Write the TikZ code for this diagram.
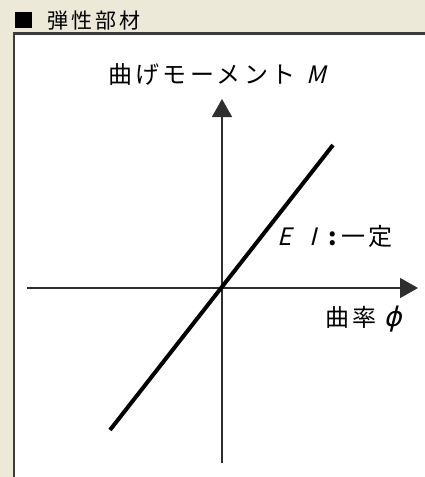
\documentclass[tikz,border=0pt]{standalone}
\usepackage{fontspec}
\setmainfont{Noto Sans CJK JP}
\newfontfamily\jpsl[FakeSlant=0.25]{Noto Sans CJK JP}
\newfontfamily\phifont[FakeSlant=0.25]{DejaVu Sans}
\usetikzlibrary{arrows.meta}
\definecolor{winbg}{HTML}{ECE9D8}
\definecolor{framegray}{HTML}{3C3C3C}
\definecolor{axisgray}{HTML}{2E2E2E}
\begin{document}
\begin{tikzpicture}[x=1pt,y=-1pt,
  lbl/.style={inner sep=0pt, anchor=base west,
    font=\fontsize{24}{24}\selectfont\addfontfeatures{LetterSpace=14}},
  ttl/.style={inner sep=0pt, anchor=base west,
    font=\fontsize{21}{21}\selectfont\addfontfeatures{LetterSpace=15}},
  axisline/.style={draw=axisgray, line width=1.4pt, -{Triangle[length=18pt,width=20pt]}},
  graphline/.style={draw=black, line width=4pt}]
\useasboundingbox (0,0) rectangle (425,477);
\fill[winbg] (0,0) rectangle (425,477);
\fill[white] (15,35) rectangle (425,477);
\draw[framegray, line width=2.5pt] (13.75,477) -- (13.75,33.25) -- (425,33.25);
\fill[black] (15,12) rectangle (32,28);
\node[ttl] (title) at (47,28) {弾性部材};
% axes
\coordinate (ybot) at (222,463);
\coordinate (ytop) at (222,99);
\coordinate (xleft) at (27,288);
\coordinate (xright) at (418,288);
\draw[axisline] (ybot) -- (ytop);
\draw[axisline] (xleft) -- (xright);
% graph
\coordinate (gA) at (110,430);
\coordinate (gB) at (333,145);
\draw[graphline] (gA) -- (gB);
% labels
\node[lbl] (ylab) at (108,83) {曲げモーメント\hspace{11pt}{\jpsl M}};
\node[lbl] (eilab) at (277,245) {\makebox[32pt][l]{\jpsl E}\makebox[19pt][l]{\jpsl I}\makebox[13pt][l]{\bfseries :}一定};
\node[lbl] (xlab) at (325,326) {曲率\hspace{7pt}{\fontsize{27}{27}\phifont ϕ}};
\end{tikzpicture}
\end{document}
